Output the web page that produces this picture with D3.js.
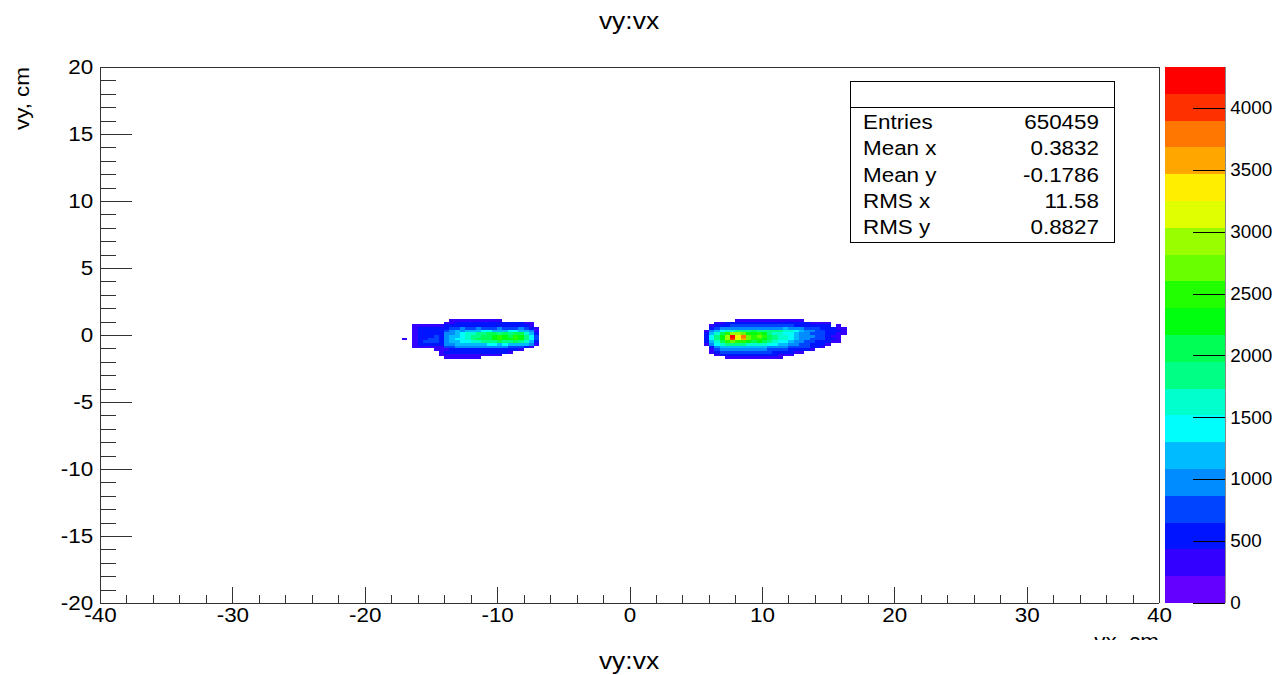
<!DOCTYPE html>
<html><head><meta charset="utf-8">
<script src="https://cdn.jsdelivr.net/npm/d3@7"></script>
<style>
body{margin:0;background:#fff}
svg{display:block}
text{font-family:"Liberation Sans",Arial,Helvetica,sans-serif;fill:#000}
</style>
</head><body>
<svg id="chart" width="1286" height="675"></svg>
<script>
// ---------- data ----------
const chartTitle = "vy:vx";
const xAxisTitle = "vx, cm";
const yAxisTitle = "vy, cm";
const xTicks = [-40, -30, -20, -10, 0, 10, 20, 30, 40];
const yTicks = [-20, -15, -10, -5, 0, 5, 10, 15, 20];
const zTicks = [0, 500, 1000, 1500, 2000, 2500, 3000, 3500, 4000];
const xDomain = [-40, 40];
const yDomain = [-20, 20];
const zMax = 4330;
const nLevels = 20;
const paletteColors = ["#6300ff","#3300ff","#0014ff","#0044ff","#008bff","#00bbff","#00fffc","#00ffcc",
  "#00ff85","#00ff55","#00ff0e","#22ff00","#69ff00","#99ff00","#e0ff00","#ffee00","#ffa700","#ff7700","#ff3000","#ff0000"];
const statNames = ["Entries", "Mean x", "Mean y", "RMS x", "RMS y"];
const statValues = ["650459", "0.3832", "-0.1786", "11.58", "0.8827"];

// 2D histogram cells: one character per bin = colour level (0 empty, 1..9, a..k = 10..20)
const binW = 0.4, binH = 0.2, gridTopY = 1.2;
const leftBlobX0 = -17.2;
const leftBlobRows = [
  "000000000222222222200000000",
  "000000002233333333333332200",
  "002222223333333333333333200",
  "002333333445445444544454320",
  "002333334565666776667766520",
  "0023333355678899aa9a9aa8630",
  "002333435667899aabcbacb9740",
  "20233443567789aaabcbbcb9740",
  "002344435667788999a99a98630",
  "002333335566666677676666520",
  "002222224455555555554443200",
  "000000222333333333333320000",
  "000000023333333333332000000",
  "000000022222222222200000000",
  "000000002222222000000000000"
];
const rightBlobX0 = 5.2;
const rightBlobRows = [
  "00000002222222222222000000000",
  "00022333333333333333322220000",
  "00233344444444444433333330200",
  "00345555555555556555444333220",
  "0256788999a99999887655443332",
  "0368aceedbbcb9887765544433220",
  "0379bekgidcdca988765554432200",
  "0379bejfhdccba988765544433200",
  "0368acdccbaba9877655443332200",
  "02578999988887766554433320000",
  "00356666666665555444433200000",
  "00245555555554444333320000000",
  "00234444444444333322000000000",
  "00023333333333322200000000000",
  "00000222222222220000000000000"
];
const levelChars = "0123456789abcdefghijk";

// ---------- layout ----------
const frame = {left: 100, right: 1159, top: 67, bottom: 603};
const sx = 1.15;          // horizontal stretch of the original text rendering
const labelSize = 19.5;
const svg = d3.select("#chart");
const x = d3.scaleLinear().domain(xDomain).range([frame.left, frame.right]);
const y = d3.scaleLinear().domain(yDomain).range([frame.bottom, frame.top]);
const z = d3.scaleLinear().domain([0, zMax]).range([frame.bottom, frame.top]);
const color = d3.scaleQuantize().domain([0, zMax]).range(paletteColors);
const levelStep = zMax / nLevels;
const fmt = d => String(d);

function cellsFrom(rows, x0) {
  const out = [];
  rows.forEach((row, i) => {
    for (let j = 0; j < row.length; j++) {
      const lev = levelChars.indexOf(row[j]);
      if (lev > 0) out.push({x0: x0 + j * binW, y1: gridTopY - i * binH, v: (lev - 0.5) * levelStep});
    }
  });
  return out;
}
const cells = cellsFrom(leftBlobRows, leftBlobX0).concat(cellsFrom(rightBlobRows, rightBlobX0));

svg.append("g").attr("shape-rendering", "crispEdges")
  .selectAll("rect").data(cells).join("rect")
  .attr("x", d => x(d.x0))
  .attr("y", d => y(d.y1))
  .attr("width", d => x(d.x0 + binW) - x(d.x0))
  .attr("height", d => y(d.y1 - binH) - y(d.y1))
  .attr("fill", d => color(d.v));

function stext(parent, px, py, str, size, anchor, extra) {
  return parent.append("text")
    .attr("transform", `translate(${px},${py}) ${extra || ""} scale(${sx},1)`)
    .attr("text-anchor", anchor || "start").attr("font-size", size).text(str);
}

// frame
const axisCol = "#333";
const g = svg.append("g").attr("shape-rendering", "crispEdges");
g.append("line").attr("x1", frame.left).attr("x2", frame.right).attr("y1", frame.top).attr("y2", frame.top).attr("stroke", axisCol);
g.append("line").attr("x1", frame.right).attr("x2", frame.right).attr("y1", frame.top).attr("y2", frame.bottom).attr("stroke", axisCol);

// x axis
const xAx = svg.append("g").attr("transform", `translate(0,${frame.bottom})`)
  .call(d3.axisTop(x).tickValues(d3.range(-40, 40.001, 2)).tickSize(8).tickFormat(""));
xAx.selectAll("line").filter(d => Math.round(d) % 10 === 0).attr("y2", -16);
const xAx2 = svg.append("g").attr("transform", `translate(0,${frame.bottom})`)
  .call(d3.axisBottom(x).tickValues(xTicks).tickSize(0).tickPadding(5).tickFormat(fmt));
xAx2.select(".domain").remove();

// y axis
const yAx = svg.append("g").attr("transform", `translate(${frame.left},0)`)
  .call(d3.axisRight(y).tickValues(d3.range(-20, 20.001, 1)).tickSize(16).tickFormat(""));
yAx.selectAll("line").filter(d => Math.round(d) % 5 === 0).attr("x2", 32);
const yAx2 = svg.append("g").attr("transform", `translate(${frame.left},0)`)
  .call(d3.axisLeft(y).tickValues(yTicks).tickSize(0).tickPadding(6).tickFormat(fmt));
yAx2.select(".domain").remove();

svg.selectAll(".tick text").attr("font-size", labelSize).attr("font-family", null)
  .attr("transform", `scale(${sx},1)`);
svg.selectAll(".domain, .tick line").attr("stroke", axisCol).attr("shape-rendering", "crispEdges");
xAx.select(".domain").attr("d", `M${frame.left},0H${frame.right}`);
yAx.select(".domain").attr("d", `M0,${frame.bottom}V${frame.top}`);

// axis titles (x title is cut off by the lower pad in the original)
svg.append("clipPath").attr("id", "xt").append("rect").attr("x", 0).attr("y", 0).attr("width", 1286).attr("height", 640);
const xtg = svg.append("g").attr("clip-path", "url(#xt)");
stext(xtg, frame.right, 648, xAxisTitle, labelSize, "end");
stext(svg, 29, 67, yAxisTitle, labelSize, "end", "rotate(-90)");

// titles
stext(svg, 629, 29, chartTitle, 23, "middle");
stext(svg, 629, 669, chartTitle, 23, "middle");

// colour bar
const cb = {x0: 1165, x1: 1225};
const bands = d3.range(nLevels).map(k => k * levelStep);
svg.append("g").attr("shape-rendering", "crispEdges").selectAll("rect").data(bands).join("rect")
  .attr("x", cb.x0).attr("width", cb.x1 - cb.x0)
  .attr("y", d => z(d + levelStep)).attr("height", d => z(d) - z(d + levelStep))
  .attr("fill", d => color(d + levelStep / 2));
const zAx = svg.append("g").attr("transform", `translate(${cb.x1},0)`)
  .call(d3.axisRight(z).tickValues(zTicks).tickSize(0).tickPadding(5).tickFormat(fmt));
zAx.selectAll(".tick line").attr("x2", -32).attr("stroke", "#000").attr("shape-rendering", "crispEdges");
zAx.select(".domain").attr("d", `M0,${frame.bottom}V${frame.top}`).attr("stroke", "#888").attr("shape-rendering", "crispEdges");
zAx.selectAll("text").attr("font-size", 18).attr("font-family", null).attr("transform", "scale(1.05,1)");

// stats box
const sb = {x: 850, y: 81, w: 264, h: 161, head: 26, row0: 122, rowStep: 26.25};
const sg = svg.append("g");
sg.append("rect").attr("x", sb.x + 0.5).attr("y", sb.y + 0.5).attr("width", sb.w).attr("height", sb.h)
  .attr("fill", "#fff").attr("stroke", "#000");
sg.append("line").attr("x1", sb.x).attr("x2", sb.x + sb.w).attr("y1", sb.y + sb.head + 0.5).attr("y2", sb.y + sb.head + 0.5).attr("stroke", "#000");
statNames.forEach((n, i) => {
  const cy = sb.row0 + sb.rowStep * i + 7;
  stext(sg, sb.x + 13, cy, n, labelSize, "start");
  stext(sg, sb.x + sb.w - 15, cy, statValues[i], labelSize, "end");
});
</script>
</body></html>
